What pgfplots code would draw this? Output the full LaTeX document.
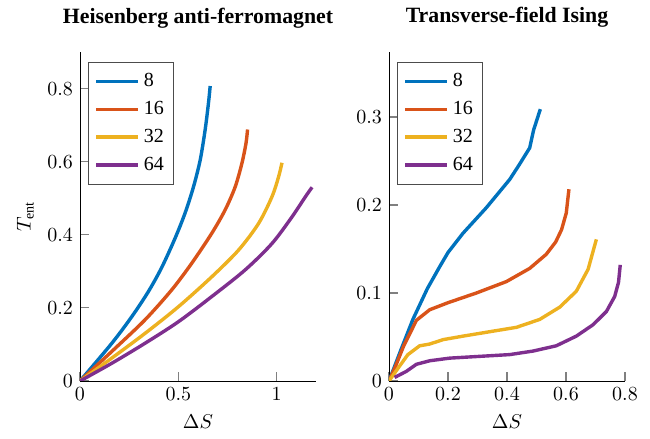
\documentclass[border=0pt]{standalone}
\usepackage{pgfplots}
\pgfplotsset{compat=1.18}
\usepackage{fontspec}
\setmainfont{Liberation Serif}
\definecolor{c1}{RGB}{0,114,189}
\definecolor{c2}{RGB}{217,83,25}
\definecolor{c3}{RGB}{237,177,32}
\definecolor{c4}{RGB}{126,47,142}
\pgfplotsset{
  myax/.style={
    scale only axis, width=118pt, height=164.5pt,
    axis lines=left, axis line style={-, black},
    tick align=inside, major tick style={gray, semithick}, major tick length=4.3pt,
    title style={font=\fontsize{10.9}{13}\selectfont\bfseries, at={(0.5,1)}, anchor=base, yshift=8.5pt},
    xlabel={$\Delta S$},
    legend cell align=left,
    legend style={at={(0.034,0.97)}, anchor=north west, draw=black!70, inner xsep=3pt, inner ysep=3.5pt, row sep=1.8pt, font=\normalsize},
    legend image code/.code={\draw[#1] (0pt,0pt) -- (21pt,0pt);},
    every axis plot/.append style={line width=1.7pt},
  }
}
\begin{document}
\begin{tikzpicture}
\useasboundingbox (0,0) rectangle (325pt,219.5pt);
\begin{axis}[myax, at={(40pt,29pt)}, anchor=south west,
  title={Heisenberg anti-ferromagnet},
  xmin=0, xmax=1.2, ymin=0, ymax=0.9,
  xtick={0,0.5,1}, ytick={0,0.2,0.4,0.6,0.8},
  ylabel={$T_{\mathrm{ent}}$}]
\addplot[c1, smooth] coordinates {(0,0) (0.160,0.102) (0.262,0.175) (0.347,0.244) (0.415,0.310) (0.483,0.390) (0.534,0.459) (0.577,0.531) (0.611,0.604) (0.636,0.686) (0.653,0.759) (0.662,0.807)};
\addplot[c2, smooth] coordinates {(0,0) (0.160,0.080) (0.330,0.167) (0.466,0.249) (0.568,0.322) (0.670,0.404) (0.738,0.468) (0.789,0.531) (0.823,0.595) (0.844,0.650) (0.852,0.688)};
\addplot[c3, smooth] coordinates {(0,0) (0.160,0.062) (0.330,0.130) (0.5,0.203) (0.670,0.285) (0.806,0.358) (0.908,0.431) (0.976,0.504) (1.010,0.559) (1.027,0.597)};
\addplot[c4, smooth] coordinates {(0,0) (0.160,0.048) (0.330,0.103) (0.5,0.162) (0.670,0.231) (0.840,0.304) (0.976,0.376) (1.078,0.449) (1.146,0.504) (1.180,0.530)};
\legend{8,16,32,64}
\end{axis}
\begin{axis}[myax, at={(194.5pt,29pt)}, anchor=south west,
  title={Transverse-field Ising},
  xmin=0, xmax=0.8, ymin=0, ymax=0.374,
  xtick={0,0.2,0.4,0.6,0.8}, ytick={0,0.1,0.2,0.3}]
\addplot[c1] coordinates {(0,0) (0.04,0.035) (0.081,0.07) (0.13,0.105) (0.172,0.13) (0.2,0.146) (0.251,0.168) (0.33,0.197) (0.409,0.229) (0.44,0.245) (0.477,0.265) (0.49,0.285) (0.513,0.309)};
\addplot[c2] coordinates {(0,0) (0.02,0.015) (0.05,0.04) (0.093,0.069) (0.138,0.081) (0.2,0.089) (0.296,0.1) (0.398,0.113) (0.477,0.128) (0.533,0.144) (0.565,0.158) (0.585,0.172) (0.601,0.191) (0.61,0.218)};
\addplot[c3] coordinates {(0,0) (0.036,0.017) (0.064,0.03) (0.104,0.04) (0.138,0.042) (0.183,0.047) (0.251,0.051) (0.341,0.056) (0.432,0.061) (0.511,0.07) (0.579,0.084) (0.635,0.102) (0.675,0.127) (0.703,0.161)};
\addplot[c4] coordinates {(0.019,0.004) (0.059,0.011) (0.093,0.019) (0.138,0.023) (0.206,0.026) (0.307,0.028) (0.409,0.03) (0.488,0.034) (0.567,0.04) (0.635,0.051) (0.692,0.064) (0.737,0.079) (0.765,0.096) (0.778,0.112) (0.784,0.132)};
\legend{8,16,32,64}
\end{axis}
\end{tikzpicture}
\end{document}
